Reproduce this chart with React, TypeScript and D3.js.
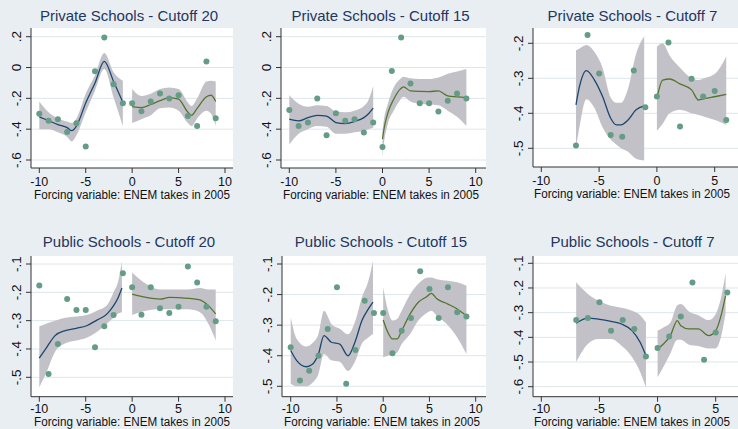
import React from "react";
import * as d3 from "d3";

// ---------- shared categories / ticks ----------
const xTicksWide = [-10, -5, 0, 5, 10];
const xTicksNarrow = [-10, -5, 0, 5];
const yTicksTop = [0.2, 0, -0.2, -0.4, -0.6];
const yLabelsTop = [".2", "0", "-.2", "-.4", "-.6"];
const yTicksTopRight = [-0.2, -0.3, -0.4, -0.5];
const yLabelsTopRight = ["-.2", "-.3", "-.4", "-.5"];
const yTicksBottom = [-0.1, -0.2, -0.3, -0.4, -0.5];
const yLabelsBottom = ["-.1", "-.2", "-.3", "-.4", "-.5"];
const yTicksBottomRight = [-0.1, -0.2, -0.3, -0.4, -0.5, -0.6];
const yLabelsBottomRight = ["-.1", "-.2", "-.3", "-.4", "-.5", "-.6"];

const titles = [
  "Private Schools - Cutoff 20",
  "Private Schools - Cutoff 15",
  "Private Schools - Cutoff 7",
  "Public Schools - Cutoff 20",
  "Public Schools - Cutoff 15",
  "Public Schools - Cutoff 7",
];
const xAxisTitle = "Forcing variable: ENEM takes in 2005";

const binsWide = [-10, -9, -8, -7, -6, -5, -4, -3, -2, -1, 0, 1, 2, 3, 4, 5, 6, 7, 8, 9];
const binsNarrow = [-7, -6, -5, -4, -3, -2, -1, 0, 1, 2, 3, 4, 5, 6];

// ---------- Private Schools - Cutoff 20 ----------
const priv20Points = [-0.3, -0.346, -0.335, -0.418, -0.361, -0.513, -0.024, 0.195, -0.108, -0.231, -0.231, -0.283, -0.22, -0.169, -0.201, -0.18, -0.314, -0.379, 0.039, -0.329];
const priv20LeftX = [-10, -9, -8, -7, -6.5, -6, -5, -4, -3, -2, -1];
const priv20LeftY = [-0.32, -0.345, -0.37, -0.39, -0.41, -0.38, -0.23, -0.1, 0.04, -0.09, -0.225];
const priv20LeftLo = [-0.4, -0.4, -0.42, -0.45, -0.48, -0.44, -0.29, -0.15, -0.01, -0.195, -0.38];
const priv20LeftHi = [-0.22, -0.29, -0.33, -0.35, -0.36, -0.33, -0.17, -0.05, 0.095, -0.03, -0.085];
const priv20RightX = [0, 1, 2, 3, 4, 5, 6, 6.4, 7, 8, 8.5, 9];
const priv20RightY = [-0.253, -0.26, -0.24, -0.215, -0.195, -0.205, -0.29, -0.31, -0.265, -0.19, -0.18, -0.22];
const priv20RightLo = [-0.36, -0.335, -0.31, -0.265, -0.26, -0.28, -0.36, -0.38, -0.33, -0.28, -0.3, -0.38];
const priv20RightHi = [-0.14, -0.185, -0.17, -0.14, -0.13, -0.14, -0.227, -0.25, -0.2, -0.09, -0.085, -0.09];

// ---------- Private Schools - Cutoff 15 ----------
const priv15Points = [-0.275, -0.379, -0.357, -0.201, -0.439, -0.297, -0.346, -0.335, -0.422, -0.357, -0.515, -0.022, 0.195, -0.104, -0.232, -0.232, -0.286, -0.216, -0.169, -0.201];
const priv15LeftX = [-10, -9, -8, -7, -6, -5, -4, -3, -2, -1.5, -1];
const priv15LeftY = [-0.335, -0.346, -0.325, -0.31, -0.315, -0.357, -0.364, -0.35, -0.325, -0.3, -0.264];
const priv15LeftLo = [-0.5, -0.43, -0.4, -0.38, -0.385, -0.43, -0.43, -0.42, -0.41, -0.4, -0.39];
const priv15LeftHi = [-0.18, -0.235, -0.255, -0.245, -0.25, -0.285, -0.29, -0.28, -0.25, -0.21, -0.12];
const priv15RightX = [0, 0.1, 0.6, 1.2, 1.9, 2.25, 3, 4, 5, 6, 7, 8, 9];
const priv15RightY = [-0.465, -0.42, -0.29, -0.206, -0.14, -0.125, -0.152, -0.155, -0.156, -0.152, -0.184, -0.19, -0.195];
const priv15RightLo = [-0.58, -0.52, -0.36, -0.28, -0.21, -0.19, -0.22, -0.235, -0.24, -0.245, -0.28, -0.32, -0.38];
const priv15RightHi = [-0.41, -0.36, -0.23, -0.13, -0.075, -0.06, -0.07, -0.075, -0.075, -0.065, -0.04, -0.025, -0.01];

// ---------- Private Schools - Cutoff 7 ----------
const priv7Points = [-0.492, -0.176, -0.286, -0.462, -0.467, -0.278, -0.383, -0.352, -0.198, -0.438, -0.301, -0.352, -0.336, -0.419];
const priv7LeftX = [-7, -6.7, -6.1, -5.4, -4.7, -4, -3.5, -3.1, -2.5, -1.8, -1.1];
const priv7LeftY = [-0.376, -0.324, -0.278, -0.305, -0.352, -0.414, -0.433, -0.433, -0.419, -0.39, -0.379];
const priv7LeftLo = [-0.5, -0.44, -0.36, -0.385, -0.44, -0.475, -0.49, -0.5, -0.51, -0.53, -0.535];
const priv7LeftHi = [-0.22, -0.215, -0.205, -0.225, -0.27, -0.355, -0.37, -0.37, -0.33, -0.23, -0.18];
const priv7RightX = [0, 0.5, 1.1, 2, 3, 3.6, 4.1, 5.1, 6];
const priv7RightY = [-0.357, -0.305, -0.302, -0.316, -0.333, -0.362, -0.358, -0.352, -0.346];
const priv7RightLo = [-0.45, -0.43, -0.4, -0.39, -0.4, -0.405, -0.41, -0.42, -0.433];
const priv7RightHi = [-0.21, -0.2, -0.235, -0.27, -0.3, -0.305, -0.3, -0.285, -0.238];

// ---------- Public Schools - Cutoff 20 ----------
const pub20Points = [-0.176, -0.488, -0.382, -0.224, -0.262, -0.262, -0.394, -0.32, -0.28, -0.133, -0.182, -0.279, -0.182, -0.256, -0.273, -0.251, -0.109, -0.165, -0.251, -0.302];
const pub20LeftX = [-10, -9.2, -8.3, -7.2, -6, -4.9, -3.8, -2.7, -2, -1.5, -1.1];
const pub20LeftY = [-0.432, -0.394, -0.353, -0.335, -0.327, -0.318, -0.298, -0.276, -0.247, -0.218, -0.185];
const pub20LeftLo = [-0.535, -0.48, -0.41, -0.38, -0.37, -0.36, -0.34, -0.31, -0.29, -0.275, -0.27];
const pub20LeftHi = [-0.32, -0.31, -0.3, -0.29, -0.285, -0.28, -0.265, -0.245, -0.2, -0.16, -0.09];
const pub20RightX = [0, 1.5, 3, 4, 6, 7.3, 8.2, 9];
const pub20RightY = [-0.206, -0.218, -0.224, -0.218, -0.221, -0.227, -0.247, -0.276];
const pub20RightLo = [-0.28, -0.265, -0.26, -0.26, -0.26, -0.27, -0.31, -0.37];
const pub20RightHi = [-0.13, -0.17, -0.19, -0.19, -0.19, -0.185, -0.19, -0.19];

// ---------- Public Schools - Cutoff 15 ----------
const pub15Points = [-0.372, -0.481, -0.449, -0.4, -0.313, -0.176, -0.492, -0.381, -0.22, -0.26, -0.26, -0.392, -0.318, -0.277, -0.124, -0.182, -0.277, -0.176, -0.258, -0.272];
const pub15LeftX = [-10, -9.35, -8.3, -7.7, -7, -6.4, -5.6, -4.7, -3.8, -3, -2.3, -1.6, -1.1];
const pub15LeftY = [-0.383, -0.416, -0.436, -0.429, -0.394, -0.334, -0.356, -0.362, -0.4, -0.351, -0.285, -0.247, -0.225];
const pub15LeftLo = [-0.492, -0.5, -0.5, -0.49, -0.46, -0.394, -0.415, -0.42, -0.45, -0.416, -0.36, -0.34, -0.329];
const pub15LeftHi = [-0.274, -0.345, -0.37, -0.36, -0.33, -0.253, -0.296, -0.312, -0.33, -0.285, -0.209, -0.155, -0.089];
const pub15RightX = [0, 0.5, 1, 1.5, 2, 2.9, 3.8, 4.7, 5.2, 5.8, 7, 8, 9];
const pub15RightY = [-0.283, -0.323, -0.345, -0.345, -0.318, -0.264, -0.225, -0.207, -0.196, -0.214, -0.231, -0.247, -0.269];
const pub15RightLo = [-0.405, -0.4, -0.394, -0.39, -0.362, -0.33, -0.285, -0.26, -0.253, -0.27, -0.3, -0.34, -0.394];
const pub15RightHi = [-0.176, -0.25, -0.285, -0.28, -0.253, -0.2, -0.165, -0.145, -0.144, -0.15, -0.155, -0.16, -0.171];

// ---------- Public Schools - Cutoff 7 ----------
const pub7Points = [-0.33, -0.322, -0.258, -0.373, -0.33, -0.366, -0.478, -0.443, -0.397, -0.316, -0.178, -0.491, -0.38, -0.218];
const pub7LeftX = [-7, -6, -5.1, -4, -3.1, -2.2, -1.5, -1];
const pub7LeftY = [-0.343, -0.322, -0.326, -0.335, -0.346, -0.373, -0.42, -0.474];
const pub7LeftLo = [-0.5, -0.427, -0.407, -0.407, -0.434, -0.48, -0.54, -0.603];
const pub7LeftHi = [-0.177, -0.224, -0.251, -0.272, -0.28, -0.292, -0.31, -0.339];
const pub7RightX = [0, 0.5, 1.1, 1.7, 2, 2.7, 3.5, 4.4, 5, 5.5, 5.85];
const pub7RightY = [-0.447, -0.427, -0.393, -0.332, -0.353, -0.366, -0.366, -0.393, -0.373, -0.305, -0.231];
const pub7RightLo = [-0.562, -0.52, -0.465, -0.41, -0.41, -0.43, -0.435, -0.445, -0.445, -0.39, -0.3];
const pub7RightHi = [-0.373, -0.36, -0.34, -0.27, -0.265, -0.295, -0.31, -0.33, -0.305, -0.23, -0.14];

// ---------- layout (positions only) ----------
const layouts = [
  { ax: 31, right: 233, top: 28, bottom: 168, xd: [-10, 10], xr: [39.3, 225], yd: [0.2, -0.6], yr: [36.7, 160], titleY: 21, labelX: 132, tickDy: 18, labelDy: 30.5 },
  { ax: 281, right: 486, top: 28, bottom: 168, xd: [-10, 10], xr: [289.3, 475.7], yd: [0.2, -0.6], yr: [36.7, 160], titleY: 21, labelX: 381, tickDy: 18, labelDy: 30.5 },
  { ax: 533, right: 738, top: 28, bottom: 167, xd: [-10, 5], xr: [541.3, 714.7], yd: [-0.2, -0.5], yr: [43.3, 148.3], titleY: 21, labelX: 632, tickDy: 18, labelDy: 31 },
  { ax: 31, right: 233, top: 256, bottom: 396.7, xd: [-10, 10], xr: [39.3, 225], yd: [-0.1, -0.5], yr: [264, 377.3], titleY: 247, labelX: 132, tickDy: 16.5, labelDy: 29.3 },
  { ax: 282, right: 486, top: 256, bottom: 396.7, xd: [-10, 10], xr: [290.7, 475.7], yd: [-0.1, -0.5], yr: [264, 386.3], titleY: 247, labelX: 382, tickDy: 16.5, labelDy: 29.3 },
  { ax: 533, right: 738, top: 256, bottom: 396.7, xd: [-10, 5], xr: [541.3, 715.7], yd: [-0.1, -0.6], yr: [263.3, 386.7], titleY: 247, labelX: 632, tickDy: 16.5, labelDy: 29.3 },
];

const fit = (x: number[], y: number[], lo: number[], hi: number[]) =>
  x.map((v, i) => ({ x: v, y: y[i], lo: lo[i], hi: hi[i] }));

const panels = [
  { title: titles[0], bins: binsWide, pts: priv20Points, xTicks: xTicksWide, yTicks: yTicksTop, yLabels: yLabelsTop,
    left: fit(priv20LeftX, priv20LeftY, priv20LeftLo, priv20LeftHi), right: fit(priv20RightX, priv20RightY, priv20RightLo, priv20RightHi) },
  { title: titles[1], bins: binsWide, pts: priv15Points, xTicks: xTicksWide, yTicks: yTicksTop, yLabels: yLabelsTop,
    left: fit(priv15LeftX, priv15LeftY, priv15LeftLo, priv15LeftHi), right: fit(priv15RightX, priv15RightY, priv15RightLo, priv15RightHi) },
  { title: titles[2], bins: binsNarrow, pts: priv7Points, xTicks: xTicksNarrow, yTicks: yTicksTopRight, yLabels: yLabelsTopRight,
    left: fit(priv7LeftX, priv7LeftY, priv7LeftLo, priv7LeftHi), right: fit(priv7RightX, priv7RightY, priv7RightLo, priv7RightHi) },
  { title: titles[3], bins: binsWide, pts: pub20Points, xTicks: xTicksWide, yTicks: yTicksBottom, yLabels: yLabelsBottom,
    left: fit(pub20LeftX, pub20LeftY, pub20LeftLo, pub20LeftHi), right: fit(pub20RightX, pub20RightY, pub20RightLo, pub20RightHi) },
  { title: titles[4], bins: binsWide, pts: pub15Points, xTicks: xTicksWide, yTicks: yTicksBottom, yLabels: yLabelsBottom,
    left: fit(pub15LeftX, pub15LeftY, pub15LeftLo, pub15LeftHi), right: fit(pub15RightX, pub15RightY, pub15RightLo, pub15RightHi) },
  { title: titles[5], bins: binsNarrow, pts: pub7Points, xTicks: xTicksNarrow, yTicks: yTicksBottomRight, yLabels: yLabelsBottomRight,
    left: fit(pub7LeftX, pub7LeftY, pub7LeftLo, pub7LeftHi), right: fit(pub7RightX, pub7RightY, pub7RightLo, pub7RightHi) },
];

const BG = "#e9eef3";
const GRID = "#dde6ec";
const BAND = "#c3c1c8";
const BLUE = "#1a476f";
const GREEN = "#55752f";
const DOT = "#649c86";
const TITLE = "#23365e";
const FONT = "'Liberation Sans', Arial, sans-serif";
const NARROW = "'Liberation Sans Narrow', 'Arial Narrow', 'Liberation Sans', sans-serif";

function Panel({ p, l }: { p: any; l: any }) {
  const x = d3.scaleLinear().domain(l.xd).range(l.xr);
  const y = d3.scaleLinear().domain(l.yd).range(l.yr);
  const area = d3.area<any>().x((d) => x(d.x)).y0((d) => y(d.lo)).y1((d) => y(d.hi)).curve(d3.curveMonotoneX);
  const line = d3.line<any>().x((d) => x(d.x)).y((d) => y(d.y)).curve(d3.curveMonotoneX);
  const cx = (l.ax + l.right) / 2;
  const clipId = `clip-${l.ax}-${l.top}`;
  return (
    <g>
      <defs>
        <clipPath id={clipId}>
          <rect x={l.ax} y={l.top} width={l.right - l.ax} height={l.bottom - l.top} />
        </clipPath>
      </defs>
      <rect x={l.ax} y={l.top} width={l.right - l.ax} height={l.bottom - l.top} fill="#ffffff" />
      {p.yTicks.map((t: number) => (
        <line key={"g" + t} x1={l.ax} x2={l.right} y1={y(t)} y2={y(t)} stroke={GRID} strokeWidth={1} />
      ))}
      <g clipPath={`url(#${clipId})`}>
        <path d={area(p.left) || ""} fill={BAND} />
        <path d={area(p.right) || ""} fill={BAND} />
        <path d={line(p.left) || ""} fill="none" stroke={BLUE} strokeWidth={1.3} />
        <path d={line(p.right) || ""} fill="none" stroke={GREEN} strokeWidth={1.3} />
        {p.bins.map((b: number, i: number) => (
          <circle key={"p" + i} cx={x(b)} cy={y(p.pts[i])} r={3} fill={DOT} />
        ))}
      </g>
      {/* axes */}
      <line x1={l.ax} x2={l.ax} y1={l.top} y2={l.bottom} stroke="#333" strokeWidth={1} />
      <line x1={l.ax} x2={l.right} y1={l.bottom} y2={l.bottom} stroke="#333" strokeWidth={1} />
      {p.yTicks.map((t: number, i: number) => (
        <g key={"yt" + t}>
          <line x1={l.ax - 5} x2={l.ax} y1={y(t)} y2={y(t)} stroke="#333" strokeWidth={1} />
          <text
            transform={`translate(${l.ax - 10},${y(t)}) rotate(-90)`}
            textAnchor="middle"
            fontFamily={NARROW}
            fontSize={13.5}
            fill="#111"
          >
            {p.yLabels[i]}
          </text>
        </g>
      ))}
      {p.xTicks.map((t: number) => (
        <g key={"xt" + t}>
          <line x1={x(t)} x2={x(t)} y1={l.bottom} y2={l.bottom + 5} stroke="#333" strokeWidth={1} />
          <text x={x(t)} y={l.bottom + l.tickDy} textAnchor="middle" fontFamily={NARROW} fontSize={12.5} fill="#111">
            {t}
          </text>
        </g>
      ))}
      <text
        x={l.labelX}
        y={l.bottom + l.labelDy}
        textAnchor="middle"
        fontFamily={NARROW}
        fontSize={12}
        fill="#111"
        textLength={196}
        lengthAdjust="spacingAndGlyphs"
      >
        {xAxisTitle}
      </text>
      <text x={cx - 3} y={l.titleY} textAnchor="middle" fontFamily={FONT} fontSize={15} fill={TITLE}>
        {p.title}
      </text>
    </g>
  );
}

export default function App() {
  return (
    <svg
      width={738}
      height={429}
      viewBox="0 0 738 429"
      style={{ position: "absolute", left: 0, top: 0, display: "block" }}
    >
      <rect x={0} y={0} width={738} height={429} fill={BG} />
      {panels.map((p, i) => (
        <Panel key={i} p={p} l={layouts[i]} />
      ))}
    </svg>
  );
}
